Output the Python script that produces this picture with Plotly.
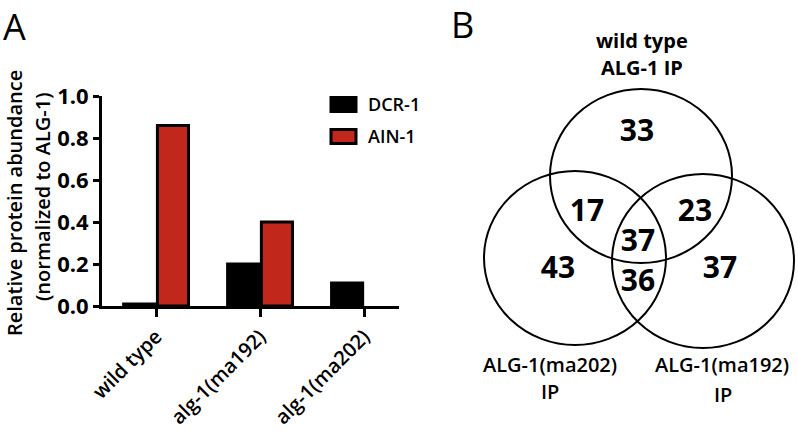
import plotly.graph_objects as go

# ---- Panel A data ----
categories = ["wild type", "alg-1(ma192)", "alg-1(ma202)"]
series_names = ["DCR-1", "AIN-1"]
dcr1 = [0.01, 0.20, 0.11]
ain1 = [0.86, 0.40, None]
y_ticks = [0.0, 0.2, 0.4, 0.6, 0.8, 1.0]
y_tick_labels = ["0.0", "0.2", "0.4", "0.6", "0.8", "1.0"]
y_title_lines = ["Relative protein abundance", "(normalized to ALG-1)"]

# ---- Panel B data (Venn counts) ----
venn_regions = ["wt only", "wt & ma202", "wt & ma192", "all", "ma202 only", "ma202 & ma192", "ma192 only"]
venn_counts = [33, 17, 23, 37, 43, 36, 37]
set_labels = [["wild type", "ALG-1 IP"], ["ALG-1(ma202)", "IP"], ["ALG-1(ma192)", "IP"]]

# ---- layout geometry for the Venn diagram (pixel-like coordinate system) ----
circle_centers = [(641, 176), (575, 258), (703, 261)]
circle_rx, circle_ry = 91, 87
count_positions = [(637, 133), (587, 213), (695, 213), (638, 243), (558, 270), (638, 283), (720, 270)]
label_line_positions = [[(642, 40), (642, 67)], [(550, 364), (550, 391)], [(722, 364), (723, 394)]]
label_weights = [700, 600, 600]

W, H = 798, 431
FONT = "Open Sans"
RED = "#C1271A"
series_colors = ["black", RED]

fig = go.Figure()
for name, vals, col in zip(series_names, [dcr1, ain1], series_colors):
    fig.add_trace(go.Bar(x=categories, y=vals, name=name, showlegend=False,
                         marker=dict(color=col, line=dict(color="black", width=3)),
                         xaxis="x", yaxis="y"))

# Venn counts as text trace
fig.add_trace(go.Scatter(x=[p[0] for p in count_positions], y=[p[1] for p in count_positions],
                         text=[str(v) for v in venn_counts], mode="text",
                         textfont=dict(family=FONT, size=30, color="black", weight=700),
                         showlegend=False, hoverinfo="skip", xaxis="x2", yaxis="y2"))

shapes = []
for cx, cy in circle_centers:
    shapes.append(dict(type="circle", xref="x2", yref="y2",
                       x0=cx - circle_rx, x1=cx + circle_rx, y0=cy - circle_ry, y1=cy + circle_ry,
                       line=dict(color="black", width=2), fillcolor="rgba(0,0,0,0)"))

annotations = []
# legend (boxes + labels)
legend_rows_y = [104.5, 136.5]
for name, col, ly in zip(series_names, series_colors, legend_rows_y):
    shapes.append(dict(type="rect", xref="paper", yref="paper",
                       x0=331 / W, x1=356 / W, y0=1 - (ly + 7) / H, y1=1 - (ly - 7) / H,
                       line=dict(color="black", width=3), fillcolor=col))
    annotations.append(dict(x=366 / W, y=1 - ly / H, xref="paper", yref="paper", text=name,
                            showarrow=False, xanchor="left", yanchor="middle",
                            font=dict(family=FONT, size=18, color="black", weight=600)))

for lines, positions, w in zip(set_labels, label_line_positions, label_weights):
    for txt, (lx, ly) in zip(lines, positions):
        annotations.append(dict(x=lx, y=ly, xref="x2", yref="y2", text=txt, showarrow=False,
                                xanchor="center", yanchor="middle",
                                font=dict(family=FONT, size=20, color="black", weight=w)))
# panel letters
annotations.append(dict(x=1 / W, y=1 - 26 / H, xref="paper", yref="paper", text="A", showarrow=False,
                        xanchor="left", yanchor="middle", font=dict(family=FONT, size=36, color="black")))
annotations.append(dict(x=449 / W, y=1 - 24 / H, xref="paper", yref="paper", text="B", showarrow=False,
                        xanchor="left", yanchor="middle", font=dict(family=FONT, size=36, color="black")))
# y-axis title (two lines)
for txt, lx, ly in zip(y_title_lines, [15, 42], [203, 197]):
    annotations.append(dict(x=lx / W, y=1 - ly / H, xref="paper", yref="paper",
                            xanchor="center", yanchor="middle", text=txt, showarrow=False,
                            textangle=-90, font=dict(family=FONT, size=20, color="black", weight=600)))

x_left, x_right = 102, 416
y_top, y_bot = 96, 306

fig.update_layout(
    width=W, height=H,
    margin=dict(l=0, r=0, t=0, b=0, pad=0, autoexpand=False),
    paper_bgcolor="white", plot_bgcolor="white",
    barmode="group", bargap=0.35, bargroupgap=0.08,
    font=dict(family=FONT, color="black"),
    xaxis=dict(domain=[x_left / W, x_right / W], range=[-0.52, 2.5],
               showline=True, linecolor="black", linewidth=3,
               ticks="outside", ticklen=8, tickwidth=3, tickcolor="black",
               tickangle=-45, tickfont=dict(family=FONT, size=20, color="black", weight=600),
               showgrid=False, zeroline=False, anchor="y", automargin=False),
    yaxis=dict(domain=[1 - y_bot / H, 1 - y_top / H], range=[0, 1.0],
               tickvals=y_ticks, ticktext=y_tick_labels,
               showline=True, linecolor="black", linewidth=3,
               ticks="outside", ticklen=6, tickwidth=3, tickcolor="black",
               tickfont=dict(family=FONT, size=22, color="black", weight=700),
               showgrid=False, zeroline=False, anchor="x", automargin=False),
    xaxis2=dict(domain=[0.5, 1.0], range=[399, 798], visible=False, anchor="y2"),
    yaxis2=dict(domain=[0, 1], range=[431, 0], visible=False, anchor="x2"),
    shapes=shapes,
    annotations=annotations,
    showlegend=False,
)

fig.write_html("out.html", config={"displayModeBar": False},
               post_script="document.body.style.margin='0';document.body.style.overflow='hidden';")
